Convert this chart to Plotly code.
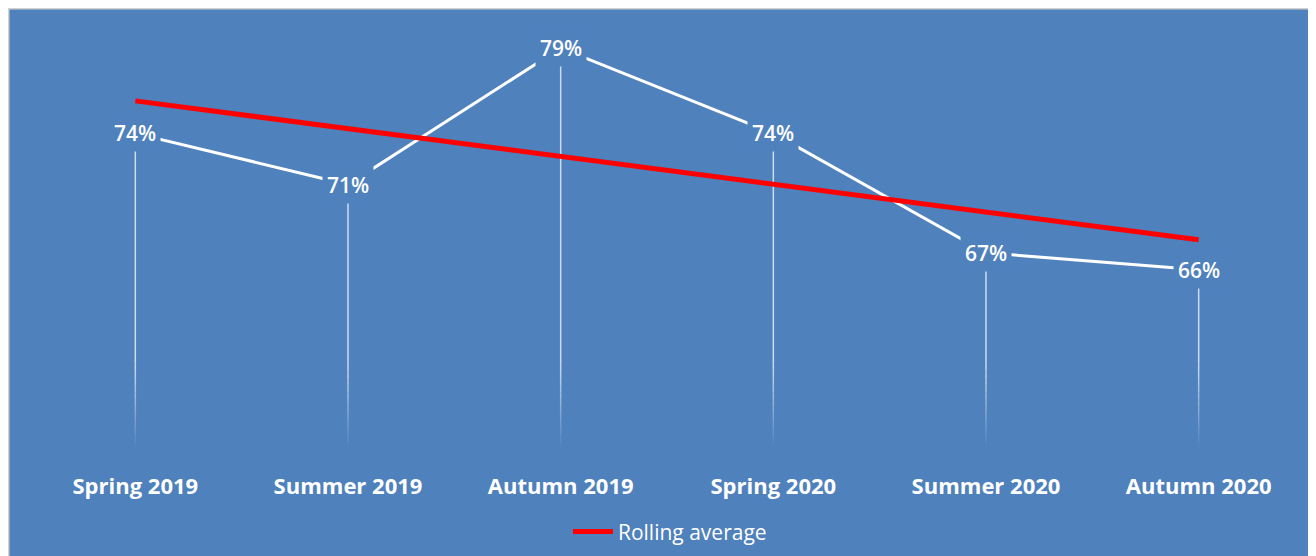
import numpy as np
import plotly.graph_objects as go

categories = ["Spring 2019", "Summer 2019", "Autumn 2019", "Spring 2020", "Summer 2020", "Autumn 2020"]
values = [0.74, 0.71, 0.79, 0.74, 0.67, 0.66]
value_labels = ["74%", "71%", "79%", "74%", "67%", "66%"]
trend_name = "Rolling average"

BLUE = "#4F81BD"
Y_MIN, Y_MAX = 0.555, 0.80
FADE_TOP = 0.605

fig = go.Figure()

# drop lines: solid part
xs, ys = [], []
for c, v in zip(categories, values):
    xs += [c, c, None]
    ys += [v, FADE_TOP, None]
fig.add_trace(go.Scatter(x=xs, y=ys, mode="lines", line=dict(color="rgba(255,255,255,0.72)", width=1.5),
                         hoverinfo="skip", showlegend=False))
# drop lines: fading part
n_steps = 12
edges = np.linspace(FADE_TOP, Y_MIN, n_steps + 1)
for i in range(n_steps):
    a = 0.72 * (1 - (i + 0.5) / n_steps)
    xs, ys = [], []
    for c in categories:
        xs += [c, c, None]
        ys += [edges[i], edges[i + 1], None]
    fig.add_trace(go.Scatter(x=xs, y=ys, mode="lines", line=dict(color=f"rgba(255,255,255,{a:.3f})", width=1.5),
                             hoverinfo="skip", showlegend=False))

# main line
fig.add_trace(go.Scatter(x=categories, y=values, mode="lines", line=dict(color="white", width=3),
                         showlegend=False, hoverinfo="skip"))

# linear trend
idx = np.arange(len(values))
slope, intercept = np.polyfit(idx, values, 1)
trend = slope * idx + intercept
fig.add_trace(go.Scatter(x=categories, y=trend, mode="lines", name=trend_name,
                         line=dict(color="#FF0000", width=5)))

# data labels with background to break the lines
for c, v, t in zip(categories, values, value_labels):
    fig.add_annotation(x=c, y=v, text=t, showarrow=False, xanchor="center", yanchor="middle",
                       font=dict(family="Open Sans", size=21, color="white", weight=600),
                       bgcolor=BLUE, borderpad=4)

W, H = 1316, 556
ml, mr, mt, mb = 21, 19, 23, 115
pw, ph = W - ml - mr, H - mt - mb
def px_x(p):
    return (p - ml) / pw
def px_y(p):
    return 1 - (p - mt) / ph
# light gray border at top/left edge
fig.add_shape(type="line", xref="paper", yref="paper", x0=px_x(0), x1=px_x(W + 5), y0=px_y(0.75), y1=px_y(0.75),
              line=dict(color="#D0D0D0", width=1.5), layer="below")
fig.add_shape(type="line", xref="paper", yref="paper", x0=px_x(0.75), x1=px_x(0.75), y0=px_y(0), y1=px_y(H + 5),
              line=dict(color="#D0D0D0", width=1.5), layer="below")

fig.update_layout(
    width=W, height=H,
    margin=dict(l=ml, r=mr, t=mt, b=mb, pad=0),
    paper_bgcolor=BLUE, plot_bgcolor=BLUE,
    xaxis=dict(type="category", range=[-0.5, 5.5], showgrid=False, zeroline=False, showline=False,
               ticks="", ticklabelstandoff=22,
               tickfont=dict(family="Open Sans", size=22, color="white", weight="bold")),
    yaxis=dict(range=[Y_MIN, Y_MAX], visible=False, showgrid=False, zeroline=False),
    showlegend=True,
    legend=dict(orientation="h", xref="container", yref="container", x=0.503, y=0.0576,
                xanchor="center", yanchor="middle", bgcolor="rgba(0,0,0,0)",
                font=dict(family="Open Sans", size=21, color="white"), itemwidth=40),
    hovermode=False,
)

fig.write_html("out.html")
